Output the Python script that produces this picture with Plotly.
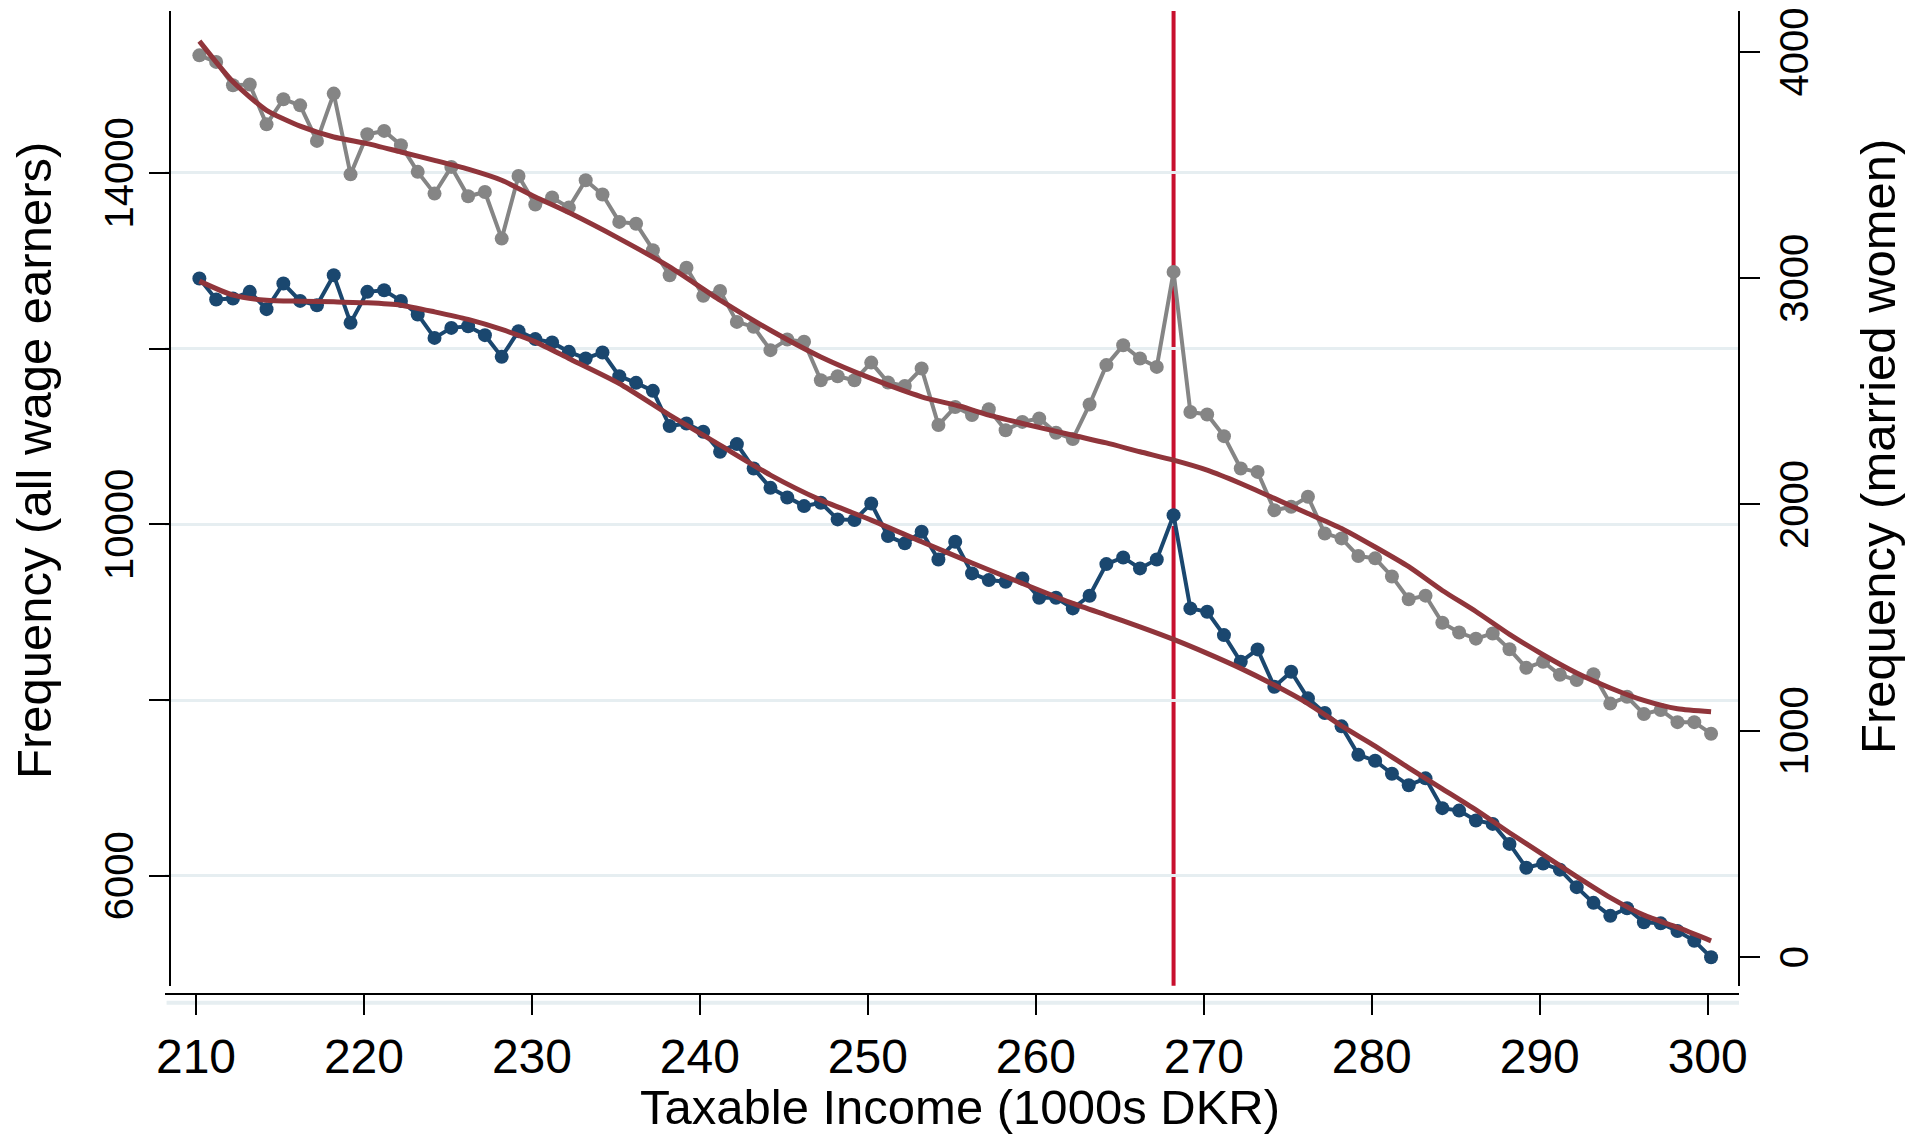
import plotly.graph_objects as go

# Bin centres (1000s DKR): kink at 268.2, bins 1000 DKR wide
income = [round(210.2 + i, 1) for i in range(91)]

# Frequency, all wage earners (left axis)
all_earners = [
    12798, 12559, 12571, 12646, 12449, 12741, 12543, 12494, 12836, 12293,
    12646, 12665, 12543, 12389, 12122, 12236, 12255, 12153, 11906, 12199,
    12108, 12070, 11963, 11888, 11956, 11686, 11610, 11519, 11118, 11148,
    11053, 10825, 10913, 10636, 10415, 10306, 10207, 10245, 10056, 10048,
    10237, 9866, 9783, 9915, 9600, 9801, 9441, 9365, 9346, 9384,
    9164, 9164, 9043, 9187, 9547, 9623, 9498, 9600, 10104, 9043,
    9004, 8739, 8435, 8576, 8151, 8322, 8019, 7852, 7700, 7376,
    7309, 7161, 7029, 7108, 6769, 6741, 6629, 6590, 6362, 6090,
    6138, 6069, 5870, 5691, 5543, 5630, 5471, 5458, 5371, 5259,
    5071,
]

# Frequency, married women (right axis)
married_women = [
    3985, 3956, 3853, 3856, 3680, 3791, 3764, 3607, 3816, 3459,
    3636, 3651, 3588, 3470, 3374, 3492, 3362, 3381, 3175, 3452,
    3326, 3357, 3312, 3433, 3370, 3249, 3241, 3124, 3013, 3046,
    2922, 2944, 2807, 2785, 2682, 2729, 2719, 2549, 2567, 2549,
    2627, 2539, 2524, 2601, 2351, 2431, 2395, 2421, 2328, 2365,
    2380, 2317, 2289, 2442, 2616, 2704, 2645, 2608, 3028, 2409,
    2398, 2302, 2159, 2144, 1975, 1990, 2034, 1872, 1850, 1772,
    1762, 1682, 1581, 1597, 1477, 1434, 1407, 1430, 1360, 1278,
    1305, 1247, 1224, 1250, 1120, 1150, 1074, 1092, 1038, 1038,
    987,
]

# Fitted counterfactual curves at sample incomes
fit_all_x = [210.2, 212.2, 214.2, 216.2, 218.2, 220.2, 222.2, 224.2, 226.2, 228.2,
             230.2, 232.2, 235.2, 238.2, 241.2, 244.2, 247.2, 250.2, 253.2, 256.2,
             259.2, 262.2, 264.2, 266.2, 268.2, 270.2, 272.2, 274.2, 276.2, 278.2,
             280.2, 282.2, 284.2, 286.2, 288.2, 290.2, 292.2, 294.2, 296.2, 298.2, 300.2]
fit_all_y = [12768, 12608, 12551, 12540, 12532, 12521, 12494, 12418, 12332, 12218,
             12077, 11888, 11603, 11243, 10901, 10560, 10275, 10048, 9801, 9560,
             9327, 9100, 8967, 8833, 8690, 8531, 8360, 8170, 7960, 7705,
             7476, 7228, 6989, 6749, 6489, 6241, 5990, 5751, 5551, 5411, 5259]

fit_mw_x = [210.2, 212.2, 214.2, 216.2, 218.2, 220.2, 222.2, 224.2, 226.2, 228.2,
            230.2, 232.2, 235.2, 238.2, 241.2, 244.2, 247.2, 250.2, 253.2, 255.5,
            257.2, 259.2, 262.2, 264.2, 266.2, 268.2, 270.2, 272.2, 274.2, 276.2,
            278.2, 280.2, 282.2, 284.2, 286.2, 288.2, 290.2, 292.2, 294.2, 296.2,
            298.2, 300.2]
fit_mw_y = [4048, 3868, 3742, 3672, 3624, 3595, 3558, 3521, 3482, 3433,
            3359, 3290, 3175, 3050, 2903, 2770, 2652, 2557, 2476, 2434,
            2395, 2358, 2306, 2272, 2233, 2196, 2152, 2093, 2027, 1960,
            1894, 1812, 1725, 1620, 1527, 1426, 1336, 1255, 1189, 1134,
            1097, 1084]

kink = 268.2
x_ticks = [210, 220, 230, 240, 250, 260, 270, 280, 290, 300]
left_ticks = [6000, 8000, 10000, 12000, 14000]
left_labels = ["6000", "", "10000", "", "14000"]
right_ticks = [0, 1000, 2000, 3000, 4000]

BLUE = "#1A476F"
GRAY = "#858585"
MAROON = "#90353B"
CRIMSON = "#C8102E"
GRID = "#E6EEF1"
FONT = "Liberation Sans, Arial, sans-serif"
FSX = 48
FSY = 40
FT = 49

fig = go.Figure()
fig.add_trace(go.Scatter(x=income, y=married_women, yaxis="y2", mode="lines+markers",
                         line=dict(color=GRAY, width=4), marker=dict(color=GRAY, size=14),
                         hoverinfo="skip"))
fig.add_trace(go.Scatter(x=fit_mw_x, y=fit_mw_y, yaxis="y2", mode="lines",
                         line=dict(color=MAROON, width=5, shape="spline", smoothing=0.6),
                         hoverinfo="skip"))
fig.add_trace(go.Scatter(x=income, y=all_earners, yaxis="y", mode="lines+markers",
                         line=dict(color=BLUE, width=4), marker=dict(color=BLUE, size=14),
                         hoverinfo="skip"))
fig.add_trace(go.Scatter(x=fit_all_x, y=fit_all_y, yaxis="y", mode="lines",
                         line=dict(color=MAROON, width=5, shape="spline", smoothing=0.6),
                         hoverinfo="skip"))

W, H = 1911, 1135
ml, mr, mt, mb = 165, 172, 11, 141
pw, ph = W - ml - mr, H - mt - mb
ydom0 = (994 - 985.7) / ph

fig.add_shape(type="line", xref="x", yref="y domain", x0=kink, x1=kink, y0=0, y1=1,
              line=dict(color=CRIMSON, width=4), layer="below")
fig.add_shape(type="line", xref="paper", yref="paper", x0=0.001, x1=1.0,
              y0=-(1002.7 - 994) / ph, y1=-(1002.7 - 994) / ph,
              line=dict(color=GRID, width=4), layer="below")

axis_common = dict(showline=True, linecolor="black", linewidth=2, ticks="outside",
                   ticklen=20, tickwidth=2, tickcolor="black", zeroline=False,
                   ticklabeloverflow="allow", automargin=False)

fig.update_layout(
    width=W, height=H,
    margin=dict(l=ml, r=mr, t=mt, b=mb, autoexpand=False),
    paper_bgcolor="white", plot_bgcolor="white",
    showlegend=False,
    font=dict(family=FONT, color="black"),
    xaxis=dict(range=[208.154, 301.863], tickvals=x_ticks, showgrid=False,
               anchor="free", position=0,
               tickfont=dict(family=FONT, size=FSX, color="black"), **axis_common),
    yaxis=dict(range=[4748, 15843], domain=[ydom0, 1], tickvals=left_ticks,
               ticktext=left_labels, tickangle=-90, showgrid=True, gridcolor=GRID,
               gridwidth=3, anchor="free", position=(170 - ml) / pw, ticklabelshift=6,
               tickfont=dict(family=FONT, size=FSY, color="black"), **axis_common),
    yaxis2=dict(range=[-126.8, 4181], domain=[ydom0, 1], tickvals=right_ticks,
                tickangle=-90, showgrid=False, overlaying="y", side="right",
                anchor="free", position=1.0, ticklabelshift=6,
                tickfont=dict(family=FONT, size=FSY, color="black"), **axis_common),
    annotations=[
        dict(text="Taxable Income (1000s DKR)", xref="paper", yref="paper",
             x=(960 - ml) / pw, y=-(1107 - 994) / ph, xanchor="center", yanchor="middle",
             showarrow=False, font=dict(family=FONT, size=FT, color="black")),
        dict(text="Frequency (all wage earners)", xref="paper", yref="paper",
             x=(34 - ml) / pw, y=(994 - 461) / ph, xanchor="center", yanchor="middle",
             textangle=-90, showarrow=False, font=dict(family=FONT, size=FT, color="black")),
        dict(text="Frequency (married women)", xref="paper", yref="paper",
             x=(1878 - ml) / pw, y=(994 - 446) / ph, xanchor="center", yanchor="middle",
             textangle=-90, showarrow=False, font=dict(family=FONT, size=FT, color="black")),
    ],
)

fig.write_html("out.html")
